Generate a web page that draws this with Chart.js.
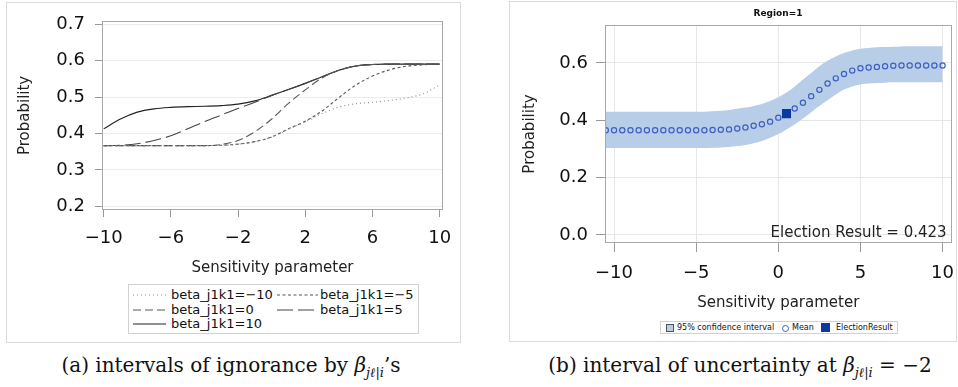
<!DOCTYPE html>
<html>
<head>
<meta charset="utf-8">
<script src="https://cdn.jsdelivr.net/npm/chart.js@4.4.1/dist/chart.umd.min.js"></script>
<style>
    body { margin: 0; background: #fff; }
    #page { position: relative; width: 958px; height: 387px; overflow: hidden; font-family: "DejaVu Sans", sans-serif; color: #111; }
    .frame { position: absolute; border: 1px solid #dadada; box-sizing: border-box; }
    canvas { position: absolute; }
    .legend { position: absolute; border: 1px solid #d2d2d2; box-sizing: border-box; background: #fff; }
    .legend .item { position: absolute; white-space: nowrap; }
    .legend svg { position: absolute; }
    .caption { position: absolute; font-family: "DejaVu Serif", serif; font-size: 20px; text-align: center; white-space: nowrap; }
    .caption sub { font-size: 13px; }
    .title { position: absolute; font-weight: bold; font-size: 9px; }
</style>
</head>
<body>
<div id="page">
    <div class="frame" style="left:6px;top:2px;width:455px;height:341px;"></div>
    <div class="frame" style="left:509px;top:1px;width:448px;height:341px;"></div>
    <canvas id="leftChart" width="460" height="285" style="left:0;top:0;"></canvas>
    <canvas id="rightChart" width="458" height="316" style="left:500px;top:0;"></canvas>
    <div class="title" style="left:738px;top:8px;width:80px;text-align:center;">Region=1</div>
    <div class="legend" id="leftLegend" style="left:128px;top:284px;width:291px;height:50px;"></div>
    <div class="legend" id="rightLegend" style="left:660px;top:321px;width:238px;height:13px;font-size:8px;"></div>
    <div class="caption" style="left:31px;top:353px;width:400px;">(a) intervals of ignorance by <i>β</i><sub><i>jℓ</i>|<i>i</i></sub>’s</div>
    <div class="caption" style="left:540px;top:353px;width:400px;">(b) interval of uncertainty at <i>β</i><sub><i>jℓ</i>|<i>i</i></sub> = −2</div>
</div>
<script>
(function () {
    "use strict";
    // left panel: sensitivity parameter vs probability, one curve per beta_j1k1
    const sensitivity = [-10, -9, -8, -7, -6, -5, -4, -3, -2, -1, 0, 1, 2, 3, 4, 5, 6, 7, 8, 9, 10];
    const seriesNames = ['beta_j1k1=\u221210', 'beta_j1k1=\u22125', 'beta_j1k1=0', 'beta_j1k1=5', 'beta_j1k1=10'];
    const probBetaM10 = [0.367, 0.367, 0.367, 0.367, 0.367, 0.367, 0.367, 0.368, 0.371, 0.378, 0.390, 0.412, 0.432, 0.455, 0.473, 0.482, 0.486, 0.491, 0.498, 0.509, 0.534];
    const probBetaM5 = [0.367, 0.367, 0.367, 0.367, 0.367, 0.367, 0.367, 0.368, 0.371, 0.378, 0.391, 0.413, 0.434, 0.462, 0.499, 0.533, 0.558, 0.575, 0.585, 0.589, 0.591];
    const probBeta0 = [0.367, 0.367, 0.367, 0.367, 0.367, 0.367, 0.367, 0.370, 0.381, 0.405, 0.440, 0.483, 0.520, 0.553, 0.574, 0.586, 0.590, 0.591, 0.591, 0.591, 0.591];
    const probBeta5 = [0.367, 0.368, 0.372, 0.381, 0.394, 0.413, 0.433, 0.451, 0.469, 0.486, 0.505, 0.521, 0.538, 0.556, 0.574, 0.586, 0.590, 0.591, 0.591, 0.591, 0.591];
    const probBeta10 = [0.413, 0.440, 0.459, 0.468, 0.472, 0.474, 0.475, 0.477, 0.481, 0.490, 0.505, 0.521, 0.538, 0.556, 0.574, 0.586, 0.590, 0.591, 0.591, 0.591, 0.591];
    const leftXTicks = [-10, -6, -2, 2, 6, 10];
    const leftYTicks = [0.2, 0.3, 0.4, 0.5, 0.6, 0.7];

    // right panel: mean with 95% band, region 1
    const sensitivityFine = [-10.5, -10, -9.5, -9, -8.5, -8, -7.5, -7, -6.5, -6, -5.5, -5, -4.5, -4, -3.5, -3, -2.5, -2, -1.5, -1, -0.5,
        0, 0.5, 1, 1.5, 2, 2.5, 3, 3.5, 4, 4.5, 5, 5.5, 6, 6.5, 7, 7.5, 8, 8.5, 9, 9.5, 10];
    const meanProb = [0.365, 0.365, 0.365, 0.365, 0.365, 0.365, 0.365, 0.365, 0.365, 0.365, 0.365, 0.365, 0.365, 0.366, 0.367, 0.368, 0.371, 0.375, 0.381, 0.386, 0.395,
        0.409, 0.424, 0.441, 0.461, 0.484, 0.506, 0.528, 0.546, 0.561, 0.573, 0.581, 0.584, 0.586, 0.588, 0.590, 0.591, 0.591, 0.591, 0.591, 0.591, 0.591];
    const upperCI = [0.430, 0.430, 0.430, 0.430, 0.430, 0.430, 0.430, 0.430, 0.430, 0.430, 0.430, 0.430, 0.430, 0.431, 0.433, 0.436, 0.440, 0.444, 0.450, 0.457, 0.467,
        0.480, 0.497, 0.518, 0.542, 0.565, 0.588, 0.607, 0.622, 0.634, 0.643, 0.649, 0.652, 0.654, 0.655, 0.656, 0.657, 0.658, 0.658, 0.658, 0.658, 0.658];
    const lowerCI = [0.303, 0.303, 0.303, 0.303, 0.303, 0.303, 0.303, 0.303, 0.303, 0.303, 0.303, 0.303, 0.303, 0.304, 0.305, 0.307, 0.310, 0.314, 0.320, 0.328, 0.339,
        0.352, 0.368, 0.386, 0.406, 0.428, 0.450, 0.470, 0.490, 0.507, 0.518, 0.525, 0.528, 0.530, 0.531, 0.532, 0.532, 0.532, 0.532, 0.532, 0.532, 0.532];
    const electionX = [0.5];
    const electionY = [0.423];
    const rightXTicks = [-10, -5, 0, 5, 10];
    const rightYTicks = [0.0, 0.2, 0.4, 0.6];

    const fontFamily = '"DejaVu Sans", sans-serif';
    Chart.defaults.font.family = fontFamily;
    Chart.defaults.color = '#111';

    function points(xs, ys) {
        return xs.map(function (x, i) {
            return { x: x, y: ys[i] };
        });
    }
    function fixedTicks(list) {
        return function (axis) {
            axis.ticks = list.map(function (v) {
                return { value: v };
            });
        };
    }
    // fixed axis height, and no extra side room for the end labels
    function xAxisFit(h) {
        return function (s) {
            s.height = h;
            s.paddingLeft = 0;
            s.paddingRight = 0;
        };
    }
    function minusLabel(value) {
        return String(value).replace('-', '\u2212');
    }
    function oneDecimal(value) {
        return Number(value).toFixed(1);
    }
    // grey frame around the plot area
    const plotBox = {
        id: 'plotBox',
        afterDraw: function (chart) {
            const a = chart.chartArea;
            const ctx = chart.ctx;
            ctx.save();
            ctx.strokeStyle = '#a9a9a9';
            ctx.lineWidth = 1;
            ctx.strokeRect(Math.round(a.left) + 0.5, Math.round(a.top) + 0.5,
                Math.round(a.right - a.left) - 1, Math.round(a.bottom - a.top) - 1);
            ctx.restore();
        }
    };

    // Left chart
    const leftValues = [probBetaM10, probBetaM5, probBeta0, probBeta5, probBeta10];
    const leftDash = [[1, 3], [3, 2.5], [8, 4], [16, 5], []];
    const leftColor = ['#8c8c8c', '#555555', '#585858', '#444444', '#222222'];
    const leftChart = new Chart(document.getElementById('leftChart'), {
        type: 'line',
        data: {
            datasets: leftValues.map(function (vals, i) {
                return {
                    label: seriesNames[i],
                    data: points(sensitivity, vals),
                    borderColor: leftColor[i],
                    borderDash: leftDash[i],
                    borderWidth: 1.1,
                    pointRadius: 0,
                    fill: false,
                    cubicInterpolationMode: 'monotone'
                };
            })
        },
        options: {
            responsive: false,
            animation: false,
            devicePixelRatio: 1,
            layout: { padding: { left: 0, top: 16, right: 17, bottom: 5 } },
            plugins: { legend: { display: false }, tooltip: { enabled: false } },
            scales: {
                x: {
                    type: 'linear',
                    min: -10.1,
                    max: 10.2,
                    afterBuildTicks: fixedTicks(leftXTicks),
                    afterFit: xAxisFit(70),
                    border: { display: false },
                    grid: { drawOnChartArea: false, tickLength: 7, tickColor: '#9a9a9a' },
                    ticks: { font: { size: 18 }, color: '#111', padding: 11, autoSkip: false, maxRotation: 0, callback: minusLabel },
                    title: { display: true, text: 'Sensitivity parameter', font: { size: 15 }, color: '#222', padding: { top: 0, bottom: 3 } }
                },
                y: {
                    type: 'linear',
                    min: 0.19,
                    max: 0.71,
                    afterBuildTicks: fixedTicks(leftYTicks),
                    afterFit: function (s) { s.width = 102; },
                    border: { display: false },
                    grid: { color: '#ececec', tickLength: 7, tickColor: '#9a9a9a' },
                    ticks: { font: { size: 18 }, color: '#111', padding: 10, autoSkip: false, callback: oneDecimal },
                    title: { display: true, text: 'Probability', font: { size: 15 }, color: '#222', padding: { top: 16, bottom: 0 } }
                }
            }
        },
        plugins: [plotBox]
    });

    // Right chart
    const electionLabel = {
        id: 'electionLabel',
        afterDraw: function (chart) {
            const a = chart.chartArea;
            const ctx = chart.ctx;
            ctx.save();
            ctx.font = '15px ' + fontFamily;
            ctx.fillStyle = '#222';
            ctx.textAlign = 'right';
            ctx.textBaseline = 'middle';
            ctx.fillText('Election Result = ' + electionY[0].toFixed(3), a.right - 5, a.bottom - 10);
            ctx.restore();
        }
    };
    const rightChart = new Chart(document.getElementById('rightChart'), {
        type: 'line',
        data: {
            datasets: [{
                label: 'ElectionResult',
                data: points(electionX, electionY),
                showLine: false,
                pointStyle: 'rect',
                pointRadius: 6.4,
                pointBackgroundColor: '#0b3a9f',
                pointBorderColor: '#0b3a9f',
                pointBorderWidth: 0
            }, {
                label: 'Mean',
                data: points(sensitivityFine, meanProb),
                showLine: false,
                pointStyle: 'circle',
                pointRadius: 2.6,
                pointBackgroundColor: 'rgba(0, 0, 0, 0)',
                pointBorderColor: '#3d5fc2',
                pointBorderWidth: 1.2
            }, {
                label: '95% confidence interval',
                data: points(sensitivityFine, upperCI),
                borderWidth: 0,
                pointRadius: 0,
                backgroundColor: '#b8cde8',
                fill: '+1',
                cubicInterpolationMode: 'monotone'
            }, {
                label: 'lower',
                data: points(sensitivityFine, lowerCI),
                borderWidth: 0,
                pointRadius: 0,
                fill: false,
                cubicInterpolationMode: 'monotone'
            }]
        },
        options: {
            responsive: false,
            animation: false,
            devicePixelRatio: 1,
            layout: { padding: { left: 0, top: 25, right: 6, bottom: 3 } },
            plugins: { legend: { display: false }, tooltip: { enabled: false } },
            scales: {
                x: {
                    type: 'linear',
                    min: -10.55,
                    max: 10.55,
                    afterBuildTicks: fixedTicks(rightXTicks),
                    afterFit: xAxisFit(70),
                    border: { display: false },
                    grid: { color: '#e6e6e6', tickLength: 9, tickColor: '#9a9a9a' },
                    ticks: { font: { size: 18 }, color: '#111', padding: 11, autoSkip: false, maxRotation: 0, callback: minusLabel },
                    title: { display: true, text: 'Sensitivity parameter', font: { size: 15 }, color: '#222', padding: { top: 0, bottom: 1 } }
                },
                y: {
                    type: 'linear',
                    min: -0.028,
                    max: 0.732,
                    afterBuildTicks: fixedTicks(rightYTicks),
                    afterFit: function (s) { s.width = 105; },
                    border: { display: false },
                    grid: { color: '#e6e6e6', tickLength: 9, tickColor: '#9a9a9a' },
                    ticks: { font: { size: 18 }, color: '#111', padding: 8, autoSkip: false, callback: oneDecimal },
                    title: { display: true, text: 'Probability', font: { size: 15 }, color: '#222', padding: { top: 21, bottom: 0 } }
                }
            }
        },
        plugins: [plotBox, electionLabel]
    });

    // legends (html)
    const leftLegend = document.getElementById('leftLegend');
    const legendSlots = [[4, 37, 42, 10], [148, 189, 191, 10], [4, 37, 42, 25], [148, 189, 191, 25], [4, 37, 42, 39]];
    seriesNames.forEach(function (name, i) {
        const s = legendSlots[i];
        const svg = document.createElementNS('http://www.w3.org/2000/svg', 'svg');
        svg.setAttribute('width', s[1] - s[0]);
        svg.setAttribute('height', 4);
        svg.style.left = s[0] + 'px';
        svg.style.top = (s[3] - 2) + 'px';
        const line = document.createElementNS('http://www.w3.org/2000/svg', 'line');
        line.setAttribute('x1', 0);
        line.setAttribute('x2', s[1] - s[0]);
        line.setAttribute('y1', 2);
        line.setAttribute('y2', 2);
        line.setAttribute('stroke', leftColor[i]);
        line.setAttribute('stroke-width', 1.1);
        if (leftDash[i].length) {
            line.setAttribute('stroke-dasharray', leftDash[i].join(' '));
        }
        svg.appendChild(line);
        leftLegend.appendChild(svg);
        const text = document.createElement('div');
        text.className = 'item';
        text.textContent = name;
        text.style.left = s[2] + 'px';
        text.style.top = (s[3] - 8) + 'px';
        text.style.fontSize = '13px';
        text.style.lineHeight = '16px';
        leftLegend.appendChild(text);
    });

    const rightLegend = document.getElementById('rightLegend');
    rightLegend.innerHTML =
        '<div class="item" style="left:5px;top:2px;width:6px;height:6px;background:#b8cde8;border:1px solid #555;"></div>' +
        '<div class="item" style="left:16px;top:0;line-height:11px;">95% confidence interval</div>' +
        '<div class="item" style="left:121px;top:2.5px;width:5px;height:5px;border:1.2px solid #3d5fc2;border-radius:50%;"></div>' +
        '<div class="item" style="left:131px;top:0;line-height:11px;">Mean</div>' +
        '<div class="item" style="left:160px;top:1px;width:9px;height:9px;background:#0b3a9f;"></div>' +
        '<div class="item" style="left:175px;top:0;line-height:11px;">ElectionResult</div>';
}());
</script>
</body>
</html>
